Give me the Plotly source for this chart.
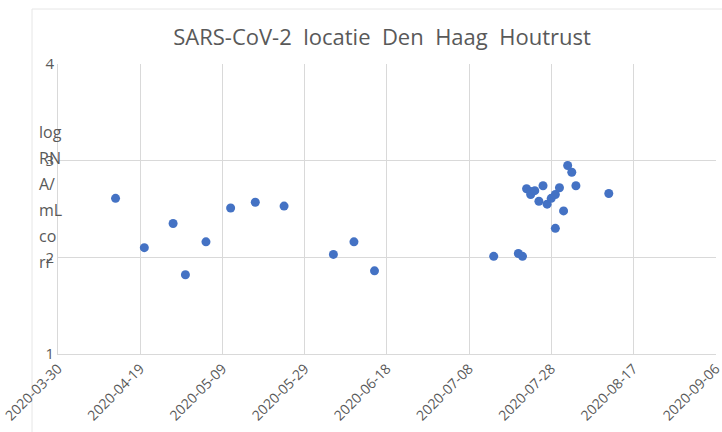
import plotly.graph_objects as go

dates = [
    "2020-04-13", "2020-04-20", "2020-04-27", "2020-04-30", "2020-05-05",
    "2020-05-11", "2020-05-17", "2020-05-24", "2020-06-05", "2020-06-10",
    "2020-06-15", "2020-07-14", "2020-07-20", "2020-07-21", "2020-07-22",
    "2020-07-23", "2020-07-23", "2020-07-24", "2020-07-26", "2020-07-25",
    "2020-07-27", "2020-07-28", "2020-07-29", "2020-07-30", "2020-07-29",
    "2020-07-31", "2020-08-01", "2020-08-02", "2020-08-03", "2020-08-11",
]
values = [
    2.61, 2.10, 2.35, 1.82, 2.16,
    2.51, 2.57, 2.53, 2.03, 2.16,
    1.86, 2.01, 2.04, 2.01, 2.71,
    2.68, 2.65, 2.69, 2.74, 2.58,
    2.55, 2.61, 2.65, 2.72, 2.30,
    2.48, 2.95, 2.88, 2.74, 2.66,
]

title_text = "SARS-CoV-2  locatie  Den  Haag  Houtrust"
y_title_lines = ["log", "RN", "A/", "mL", "co", "rr"]

grey = "#595959"
grid = "#d9d9d9"

W, H = 722, 432
L, R, T, B = 58, 6, 64, 78
pw, ph = W - L - R, H - T - B


def px_x(x):
    return (x - L) / pw


def px_y(y):
    return (H - B - y) / ph


fig = go.Figure()
fig.add_trace(go.Scatter(
    x=dates, y=values, mode="markers",
    marker=dict(color="#4472C4", size=9),
    showlegend=False,
))

annotations = []
for i, line in enumerate(y_title_lines):
    annotations.append(dict(
        text=line, xref="paper", yref="paper",
        x=px_x(37), y=px_y(132 + i * 26), xanchor="left", yanchor="middle",
        showarrow=False, font=dict(size=16, color=grey),
    ))

fig.update_layout(
    width=W, height=H,
    margin=dict(l=L, r=R, t=T, b=B, autoexpand=False),
    paper_bgcolor="white", plot_bgcolor="white",
    font=dict(family="Open Sans", color=grey),
    title=dict(text=title_text, x=382 / W, xanchor="center",
               y=1 - 37 / H, yanchor="middle",
               font=dict(size=22, color=grey, family="Open Sans")),
    xaxis=dict(
        type="date",
        range=["2020-03-30", "2020-09-06 02:00"],
        tick0="2020-03-30", dtick=20 * 86400000,
        tickformat="%Y-%m-%d", tickangle=-45,
        showgrid=True, gridcolor=grid, gridwidth=1,
        showline=True, linecolor=grid, linewidth=1,
        ticks="", tickfont=dict(size=14, color=grey),
        ticklabeloverflow="allow",
        zeroline=False, automargin=False,
    ),
    yaxis=dict(
        range=[1, 4], dtick=1, tick0=1,
        showgrid=True, gridcolor=grid, gridwidth=1,
        showline=True, linecolor=grid, linewidth=1,
        ticks="", tickfont=dict(size=15, color=grey),
        zeroline=False, automargin=False,
    ),
    annotations=annotations,
    shapes=[dict(
        type="rect", xref="paper", yref="paper",
        x0=px_x(32), x1=px_x(740), y0=px_y(440), y1=px_y(9),
        line=dict(color="#e6e6e6", width=1), layer="below",
    )],
)

fig.write_html("out.html", config={"displayModeBar": False},
               post_script="document.body.style.margin='0';")
